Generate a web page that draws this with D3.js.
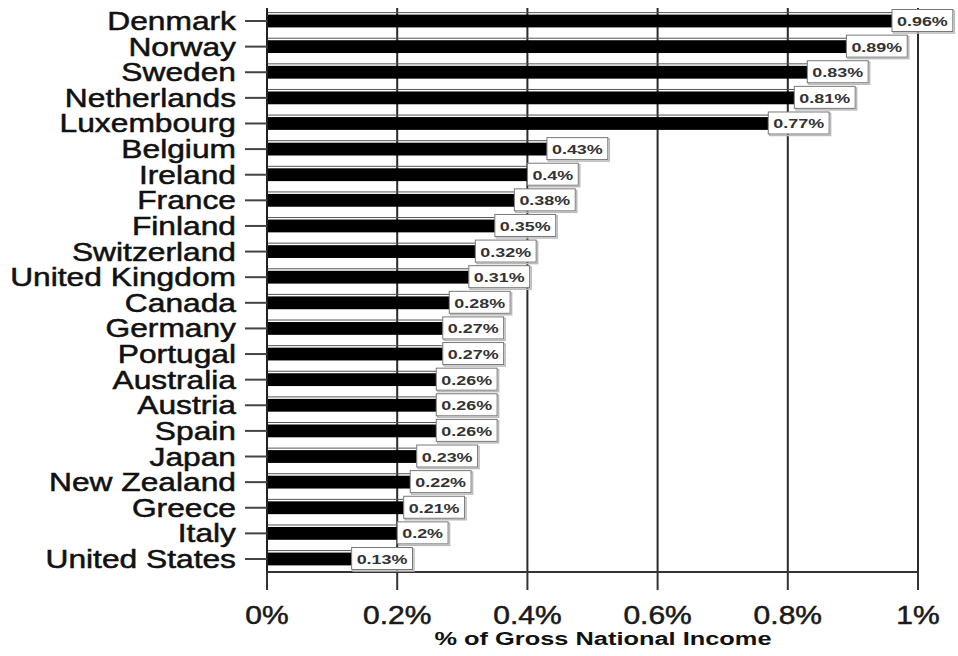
<!DOCTYPE html>
<html>
<head>
<meta charset="utf-8">
<script src="https://cdn.jsdelivr.net/npm/d3@7"></script>
<style>
  body { margin: 0; background: #fff; }
  text { font-family: "Liberation Sans", Arial, sans-serif; }
</style>
</head>
<body>
<svg width="958" height="656"></svg>
<script>
var countries = ["Denmark", "Norway", "Sweden", "Netherlands", "Luxembourg", "Belgium",
    "Ireland", "France", "Finland", "Switzerland", "United Kingdom", "Canada", "Germany",
    "Portugal", "Australia", "Austria", "Spain", "Japan", "New Zealand", "Greece", "Italy",
    "United States"];
var aidValues = [0.96, 0.89, 0.83, 0.81, 0.77, 0.43, 0.4, 0.38, 0.35, 0.32, 0.31, 0.28,
    0.27, 0.27, 0.26, 0.26, 0.26, 0.23, 0.22, 0.21, 0.2, 0.13];
var xTicks = [0, 0.2, 0.4, 0.6, 0.8, 1];
var xTitle = "% of Gross National Income";

var svg = d3.select("svg");

var x = d3.scaleLinear().domain([0, 1]).range([267, 918]);
var y = d3.scaleBand().domain(countries).range([8.2, 571.8])
        .paddingInner(0.5).paddingOuter(0.25);

var stretch = 1.27; // the original lettering is wide

// vertical grid lines
svg.append("g")
    .selectAll("line")
    .data(xTicks.slice(1))
    .enter().append("line")
    .attr("x1", function (d) { return x(d); })
    .attr("x2", function (d) { return x(d); })
    .attr("y1", 8)
    .attr("y2", 572)
    .attr("stroke", "#2a2a2a")
    .attr("stroke-width", 2);

// thin line above each bar
svg.append("g")
    .selectAll("line")
    .data(aidValues)
    .enter().append("line")
    .attr("x1", x(0))
    .attr("x2", function (d) { return x(d); })
    .attr("y1", function (d, i) { return y(countries[i]) - 2; })
    .attr("y2", function (d, i) { return y(countries[i]) - 2; })
    .attr("stroke", "#555")
    .attr("stroke-width", 1);

// bars
svg.append("g")
    .selectAll("rect")
    .data(aidValues)
    .enter().append("rect")
    .attr("x", x(0))
    .attr("y", function (d, i) { return y(countries[i]); })
    .attr("width", function (d) { return x(d) - x(0); })
    .attr("height", y.bandwidth())
    .attr("fill", "#000");

// axes lines
svg.append("line")
    .attr("x1", x(0)).attr("x2", x(0))
    .attr("y1", 8).attr("y2", 590)
    .attr("stroke", "#222").attr("stroke-width", 2);
svg.append("line")
    .attr("x1", x(0)).attr("x2", x(1))
    .attr("y1", 572).attr("y2", 572)
    .attr("stroke", "#333").attr("stroke-width", 2);

// x ticks + labels
var xt = svg.append("g").selectAll("g")
    .data(xTicks)
    .enter().append("g")
    .attr("transform", function (d) { return "translate(" + x(d) + ",0)"; });
xt.append("line")
    .attr("y1", 572).attr("y2", 590)
    .attr("stroke", "#333").attr("stroke-width", 2);
xt.append("text")
    .attr("transform", "translate(0,624) scale(" + 1.2 + ",1)")
    .attr("text-anchor", "middle")
    .attr("font-size", 25)
    .attr("fill", "#1a1a1a")
    .attr("stroke", "#1a1a1a")
    .attr("stroke-width", 0.5)
    .text(function (d) { return d3.format(".1~f")(d) + "%"; });

// x title
svg.append("text")
    .attr("transform", "translate(603,645) scale(1.41,1)")
    .attr("text-anchor", "middle")
    .attr("font-size", 18)
    .attr("font-weight", "bold")
    .attr("fill", "#111")
    .text(xTitle);

// y ticks + labels
var yt = svg.append("g").selectAll("g")
    .data(countries)
    .enter().append("g")
    .attr("transform", function (d) { return "translate(0," + (y(d) + y.bandwidth() / 2) + ")"; });
yt.append("line")
    .attr("x1", 245).attr("x2", x(0))
    .attr("stroke", "#444").attr("stroke-width", 2);
yt.append("text")
    .attr("transform", "translate(236,9) scale(" + stretch + ",1)")
    .attr("text-anchor", "end")
    .attr("font-size", 25)
    .attr("fill", "#111")
    .attr("stroke", "#111")
    .attr("stroke-width", 0.5)
    .text(function (d) { return d; });

// value labels in boxes
var lab = svg.append("g").selectAll("g")
    .data(aidValues)
    .enter().append("g")
    .attr("transform", function (d, i) {
        return "translate(" + x(d) + "," + (y(countries[i]) + y.bandwidth() / 2) + ")";
    });
lab.each(function (d) {
    var g = d3.select(this);
    var shadow = g.append("rect");
    var box = g.append("rect");
    var t = g.append("text")
        .attr("transform", "translate(5,5) scale(1.38,1)")
        .attr("font-size", 13)
        .attr("font-weight", "bold")
        .attr("fill", "#333")
        .text(d + "%");
    var w = t.node().getComputedTextLength() * 1.38 + 10;
    shadow.attr("x", 1.5).attr("y", -10).attr("width", w).attr("height", 22)
        .attr("fill", "none").attr("stroke", "#bbb").attr("stroke-width", 1.5);
    box.attr("x", 0).attr("y", -11.5).attr("width", w).attr("height", 22)
        .attr("fill", "#fff").attr("stroke", "#777").attr("stroke-width", 1);
});
</script>
</body>
</html>
